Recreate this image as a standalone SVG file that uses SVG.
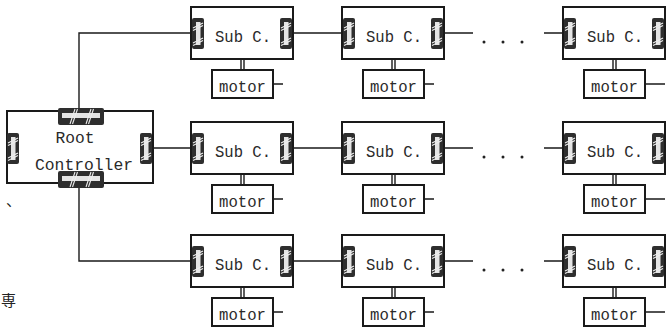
<svg xmlns="http://www.w3.org/2000/svg" xmlns:xlink="http://www.w3.org/1999/xlink" width="666" height="328" viewBox="0 0 666 328">
<style>
.box{fill:#fff;stroke:#1a1a1a;stroke-width:2}
.mot{fill:#fff;stroke:#1a1a1a;stroke-width:2}
.ln{fill:none;stroke:#1a1a1a;stroke-width:1.4}
.t{font-family:"Liberation Mono","DejaVu Sans Mono",monospace;font-size:17px;fill:#2a2a2a;text-anchor:middle}
.dot{fill:#222}
.hatch{stroke:#eeeeee;stroke-width:1.1}
.mark{font-family:"Noto Sans CJK JP",sans-serif;font-size:15px;fill:#222}
</style>
<defs>
<g id="pv">
<rect x="0" y="0" width="12" height="31" rx="2" fill="#2e2e2e"/>
<rect x="4" y="4" width="4.5" height="23" fill="#e4e4e4"/>
<line class="hatch" x1="1" y1="10" x2="11" y2="5"/>
<line class="hatch" x1="1" y1="12.5" x2="11" y2="7.5"/>
<line class="hatch" x1="1" y1="25" x2="11" y2="20"/>
<line class="hatch" x1="1" y1="27.5" x2="11" y2="22.5"/>
</g>
<g id="ph">
<rect x="0" y="0" width="46" height="17" rx="2" fill="#2e2e2e"/>
<rect x="4" y="5" width="38" height="5" fill="#e4e4e4"/>
<line class="hatch" x1="12" y1="16" x2="17" y2="1"/>
<line class="hatch" x1="14.5" y1="16" x2="19.5" y2="1"/>
<line class="hatch" x1="28" y1="16" x2="33" y2="1"/>
<line class="hatch" x1="30.5" y1="16" x2="35.5" y2="1"/>
</g>
</defs>
<rect width="666" height="328" fill="#fff"/>
<text class="mark" x="6" y="206">、</text>
<text class="mark" x="1" y="306">専</text>

<g id="connectors">
<path class="ln" d="M79,108 V33 H191"/>
<path class="ln" d="M152,148 H191"/>
<path class="ln" d="M79,187 V261 H191"/>
<path class="ln" d="M293,33 H342 M444,33 H473 M544,33 H563"/>
<path class="ln" d="M293,148 H342 M444,148 H473 M544,148 H563"/>
<path class="ln" d="M293,261 H342 M444,261 H473 M544,261 H563"/>
<g class="dot">
<circle cx="484" cy="42" r="1.5"/><circle cx="503" cy="42" r="1.5"/><circle cx="522" cy="42" r="1.5"/>
<circle cx="484" cy="157" r="1.5"/><circle cx="503" cy="157" r="1.5"/><circle cx="522" cy="157" r="1.5"/>
<circle cx="484" cy="270" r="1.5"/><circle cx="503" cy="270" r="1.5"/><circle cx="522" cy="270" r="1.5"/>
</g>
</g>

<g id="root">
<rect class="box" x="7" y="111" width="146" height="72"/>
<use xlink:href="#ph" x="58" y="108"/>
<use xlink:href="#ph" x="58" y="171"/>
<use xlink:href="#pv" x="7" y="133"/>
<use xlink:href="#pv" x="140" y="133"/>
<text class="t" x="75" y="143" textLength="39" lengthAdjust="spacingAndGlyphs">Root</text>
<text class="t" x="84" y="170" textLength="98" lengthAdjust="spacingAndGlyphs">Controller</text>
</g>

<g id="sub-1-1" transform="translate(191,7)">
<rect class="box" x="0" y="0" width="102" height="52"/>
<use xlink:href="#pv" x="1" y="11"/><use xlink:href="#pv" x="89" y="11"/>
<text class="t" x="52" y="35" textLength="56" lengthAdjust="spacingAndGlyphs">Sub C.</text>
<path class="ln" d="M50,52 V63 M53,52 V63 M82,77 H92"/>
<rect class="mot" x="21" y="63" width="61" height="28"/>
<text class="t" x="51.5" y="85" textLength="47" lengthAdjust="spacingAndGlyphs">motor</text>
</g>
<g id="sub-1-2" transform="translate(342,7)">
<rect class="box" x="0" y="0" width="102" height="52"/>
<use xlink:href="#pv" x="1" y="11"/><use xlink:href="#pv" x="89" y="11"/>
<text class="t" x="52" y="35" textLength="56" lengthAdjust="spacingAndGlyphs">Sub C.</text>
<path class="ln" d="M50,52 V63 M53,52 V63 M82,77 H92"/>
<rect class="mot" x="21" y="63" width="61" height="28"/>
<text class="t" x="51.5" y="85" textLength="47" lengthAdjust="spacingAndGlyphs">motor</text>
</g>
<g id="sub-1-3" transform="translate(563,7)">
<rect class="box" x="0" y="0" width="102" height="52"/>
<use xlink:href="#pv" x="1" y="11"/><use xlink:href="#pv" x="89" y="11"/>
<text class="t" x="52" y="35" textLength="56" lengthAdjust="spacingAndGlyphs">Sub C.</text>
<path class="ln" d="M50,52 V63 M53,52 V63 M82,77 H102"/>
<rect class="mot" x="21" y="63" width="61" height="28"/>
<text class="t" x="51.5" y="85" textLength="47" lengthAdjust="spacingAndGlyphs">motor</text>
</g>

<g id="sub-2-1" transform="translate(191,122)">
<rect class="box" x="0" y="0" width="102" height="52"/>
<use xlink:href="#pv" x="1" y="11"/><use xlink:href="#pv" x="89" y="11"/>
<text class="t" x="52" y="35" textLength="56" lengthAdjust="spacingAndGlyphs">Sub C.</text>
<path class="ln" d="M50,52 V63 M53,52 V63 M82,77 H92"/>
<rect class="mot" x="21" y="63" width="61" height="28"/>
<text class="t" x="51.5" y="85" textLength="47" lengthAdjust="spacingAndGlyphs">motor</text>
</g>
<g id="sub-2-2" transform="translate(342,122)">
<rect class="box" x="0" y="0" width="102" height="52"/>
<use xlink:href="#pv" x="1" y="11"/><use xlink:href="#pv" x="89" y="11"/>
<text class="t" x="52" y="35" textLength="56" lengthAdjust="spacingAndGlyphs">Sub C.</text>
<path class="ln" d="M50,52 V63 M53,52 V63 M82,77 H92"/>
<rect class="mot" x="21" y="63" width="61" height="28"/>
<text class="t" x="51.5" y="85" textLength="47" lengthAdjust="spacingAndGlyphs">motor</text>
</g>
<g id="sub-2-3" transform="translate(563,122)">
<rect class="box" x="0" y="0" width="102" height="52"/>
<use xlink:href="#pv" x="1" y="11"/><use xlink:href="#pv" x="89" y="11"/>
<text class="t" x="52" y="35" textLength="56" lengthAdjust="spacingAndGlyphs">Sub C.</text>
<path class="ln" d="M50,52 V63 M53,52 V63 M82,77 H102"/>
<rect class="mot" x="21" y="63" width="61" height="28"/>
<text class="t" x="51.5" y="85" textLength="47" lengthAdjust="spacingAndGlyphs">motor</text>
</g>

<g id="sub-3-1" transform="translate(191,235)">
<rect class="box" x="0" y="0" width="102" height="52"/>
<use xlink:href="#pv" x="1" y="11"/><use xlink:href="#pv" x="89" y="11"/>
<text class="t" x="52" y="35" textLength="56" lengthAdjust="spacingAndGlyphs">Sub C.</text>
<path class="ln" d="M50,52 V63 M53,52 V63 M82,77 H92"/>
<rect class="mot" x="21" y="63" width="61" height="28"/>
<text class="t" x="51.5" y="85" textLength="47" lengthAdjust="spacingAndGlyphs">motor</text>
</g>
<g id="sub-3-2" transform="translate(342,235)">
<rect class="box" x="0" y="0" width="102" height="52"/>
<use xlink:href="#pv" x="1" y="11"/><use xlink:href="#pv" x="89" y="11"/>
<text class="t" x="52" y="35" textLength="56" lengthAdjust="spacingAndGlyphs">Sub C.</text>
<path class="ln" d="M50,52 V63 M53,52 V63 M82,77 H92"/>
<rect class="mot" x="21" y="63" width="61" height="28"/>
<text class="t" x="51.5" y="85" textLength="47" lengthAdjust="spacingAndGlyphs">motor</text>
</g>
<g id="sub-3-3" transform="translate(563,235)">
<rect class="box" x="0" y="0" width="102" height="52"/>
<use xlink:href="#pv" x="1" y="11"/><use xlink:href="#pv" x="89" y="11"/>
<text class="t" x="52" y="35" textLength="56" lengthAdjust="spacingAndGlyphs">Sub C.</text>
<path class="ln" d="M50,52 V63 M53,52 V63 M82,77 H102"/>
<rect class="mot" x="21" y="63" width="61" height="28"/>
<text class="t" x="51.5" y="85" textLength="47" lengthAdjust="spacingAndGlyphs">motor</text>
</g>
</svg>
